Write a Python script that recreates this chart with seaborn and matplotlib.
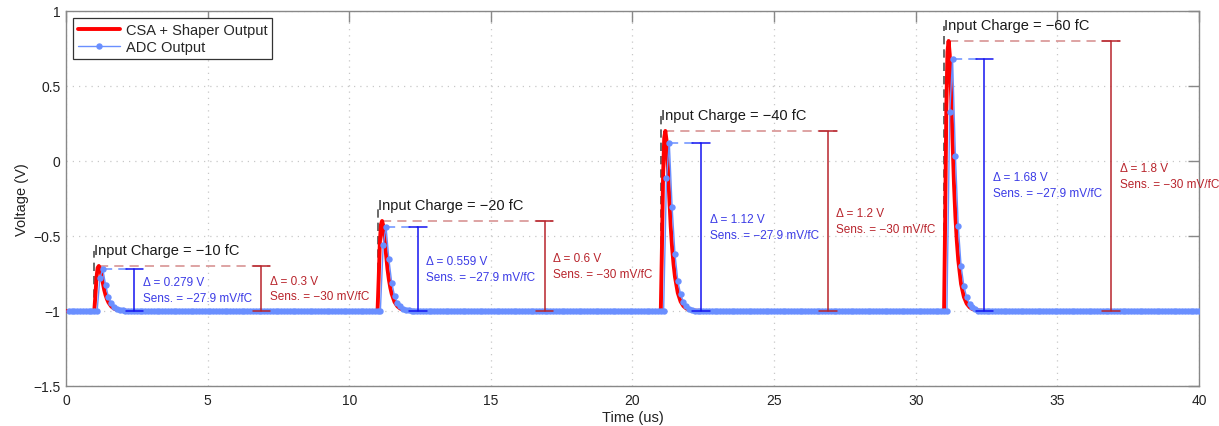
import numpy as np
import pandas as pd
import matplotlib
matplotlib.use("Agg")
import matplotlib.pyplot as plt
import seaborn as sns

# ---------------- data ----------------
pulse_start = [1.0, 11.0, 21.0, 31.0]          # us
charges = ["−10", "−20", "−40", "−60"]          # fC
shaper_amp = [0.3, 0.6, 1.2, 1.8]               # V
adc_amp = [0.279, 0.559, 1.12, 1.68]            # V
adc_sens = ["−27.9", "−27.9", "−27.9", "−27.9"]
shaper_sens = ["−30", "−30", "−30", "−30"]
baseline = -1.0

# normalised shaper pulse shape (time after start, fraction of peak)
shape_dt = [0.0, 0.04, 0.08, 0.12, 0.16, 0.20, 0.25, 0.30, 0.35, 0.40, 0.45, 0.50,
            0.60, 0.70, 0.80, 0.90, 1.00, 1.20, 1.50]
shape_frac = [0.0, 0.35, 0.75, 0.96, 1.0, 0.95, 0.80, 0.63, 0.47, 0.35, 0.26, 0.19,
              0.10, 0.052, 0.027, 0.014, 0.007, 0.002, 0.0]

# ADC samples (0.1 us period) after pulse start, fraction of shaper peak
adc_dt_index = [2, 3, 4, 5, 6, 7, 8, 9, 10, 11]
adc_frac = [0.736, 0.933, 0.575, 0.316, 0.168, 0.092, 0.05, 0.026, 0.013, 0.006]
adc_first_index, adc_last_index = 1, 400   # sample index range (x 0.1 us)

xticks = [0, 5, 10, 15, 20, 25, 30, 35, 40]
xticklabels = ["0", "5", "10", "15", "20", "25", "30", "35", "40"]
yticks = [-1.5, -1.0, -0.5, 0.0, 0.5, 1.0]
yticklabels = ["−1.5", "−1", "−0.5", "0", "0.5", "1"]

# ---------------- build series ----------------
red_t, red_v = [0.0], [baseline]
for t0, a in zip(pulse_start, shaper_amp):
    for dt, f in zip(shape_dt, shape_frac):
        red_t.append(t0 + dt)
        red_v.append(baseline + a * f)
red_t.append(40.0)
red_v.append(baseline)
df_red = pd.DataFrame({"t": red_t, "v": red_v})

k = np.arange(adc_first_index, adc_last_index + 1)
adc_v = np.full(k.shape, baseline)
for t0, a in zip(pulse_start, shaper_amp):
    k0 = int(round(t0 * 10))
    for di, f in zip(adc_dt_index, adc_frac):
        adc_v[k == k0 + di] = baseline + a * f
df_adc = pd.DataFrame({"t": k / 10.0, "v": adc_v})

# ---------------- style ----------------
sns.set_style("white")
plt.rcParams["font.family"] = ["Liberation Sans", "DejaVu Sans"]
plt.rcParams["axes.unicode_minus"] = True

RED = "#ff0000"
ADC_BLUE = "#6a8fff"
BAR_BLUE = "#1515f0"
TXT_BLUE = "#3b3be6"
BAR_RED = "#b8242c"
DASH_RED = "#d48a8a"

fig = plt.figure(figsize=(12.19, 4.27), dpi=100)
ax = fig.add_axes([0.0541, 0.0937, 0.9295, 0.8783])

sns.lineplot(data=df_red, x="t", y="v", ax=ax, color=RED, linewidth=2.8,
             sort=False, estimator=None, label="CSA + Shaper Output", zorder=3)
sns.lineplot(data=df_adc, x="t", y="v", ax=ax, color=ADC_BLUE, linewidth=1.0,
             marker="o", markersize=4.6, markeredgewidth=0, sort=False,
             estimator=None, label="ADC Output", zorder=4)

# ---------------- annotations ----------------
cap = 0.31
for t0, q, sa, aa, ss, asn in zip(pulse_start, charges, shaper_amp, adc_amp,
                                   shaper_sens, adc_sens):
    red_peak = baseline + sa
    adc_peak = baseline + aa
    bx = t0 + 1.42
    rx = t0 + 5.9
    # start marker and label
    ax.plot([t0, t0], [baseline, red_peak + 0.1], color="#505050", lw=1.2,
            ls=(0, (5, 3)), zorder=2)
    ax.text(t0, red_peak + 0.06, f"Input Charge = {q} fC", ha="left", va="bottom",
            fontsize=10.5, color="#1a1a1a")
    # dashed guides
    ax.plot([t0 + 0.16, rx + cap], [red_peak, red_peak], color=DASH_RED, lw=1.1,
            ls=(0, (6, 4)), zorder=2)
    ax.plot([t0 + 0.3, bx], [adc_peak, adc_peak], color=ADC_BLUE, lw=1.1,
            ls=(0, (6, 4)), zorder=2)
    # blue bar
    ax.plot([bx, bx], [baseline, adc_peak], color=BAR_BLUE, lw=1.1, zorder=5)
    ax.plot([bx - cap, bx + cap], [adc_peak, adc_peak], color=BAR_BLUE, lw=1.1, zorder=5)
    ax.plot([bx - cap, bx + cap], [baseline, baseline], color=BAR_BLUE, lw=1.1, zorder=5)
    ax.text(bx + 0.3, baseline + aa / 2, f"Δ = {aa:g} V\nSens. = {asn} mV/fC",
            ha="left", va="center", fontsize=8.5, color=TXT_BLUE, linespacing=1.35)
    # red bar
    ax.plot([rx, rx], [baseline, red_peak], color=BAR_RED, lw=1.1, zorder=5)
    ax.plot([rx - cap, rx + cap], [red_peak, red_peak], color=BAR_RED, lw=1.1, zorder=5)
    ax.plot([rx - cap, rx + cap], [baseline, baseline], color=BAR_RED, lw=1.1, zorder=5)
    ax.text(rx + 0.3, baseline + sa / 2, f"Δ = {sa:g} V\nSens. = {ss} mV/fC",
            ha="left", va="center", fontsize=8.5, color=BAR_RED, linespacing=1.35)

# ---------------- axes ----------------
ax.set_xlim(0, 40)
ax.set_ylim(-1.5, 1.0)
ax.set_xticks(xticks, xticklabels)
ax.set_yticks(yticks, yticklabels)
ax.tick_params(direction="in", length=8, width=1, color="#888888", top=True,
               right=True, labelsize=10, labelcolor="#222222", pad=4)
ax.tick_params(axis="x", pad=5)
ax.grid(True, color="#c8c8c8", linestyle=(0, (1, 4)), linewidth=0.9)
for s in ax.spines.values():
    s.set_color("#888888")
    s.set_linewidth(1.0)
ax.set_xlabel("Time (us)", fontsize=10.5, labelpad=2, color="#222222")
ax.set_ylabel("Voltage (V)", fontsize=10.5, labelpad=3, color="#222222")

leg = ax.legend(loc="upper left", fontsize=10.5, frameon=True, fancybox=False,
                framealpha=1, edgecolor="#333333", borderaxespad=0.5,
                handlelength=2.9, labelspacing=0.25, handletextpad=0.4,
                borderpad=0.3)
leg.get_frame().set_linewidth(0.9)

fig.savefig("out.png", dpi=100)
